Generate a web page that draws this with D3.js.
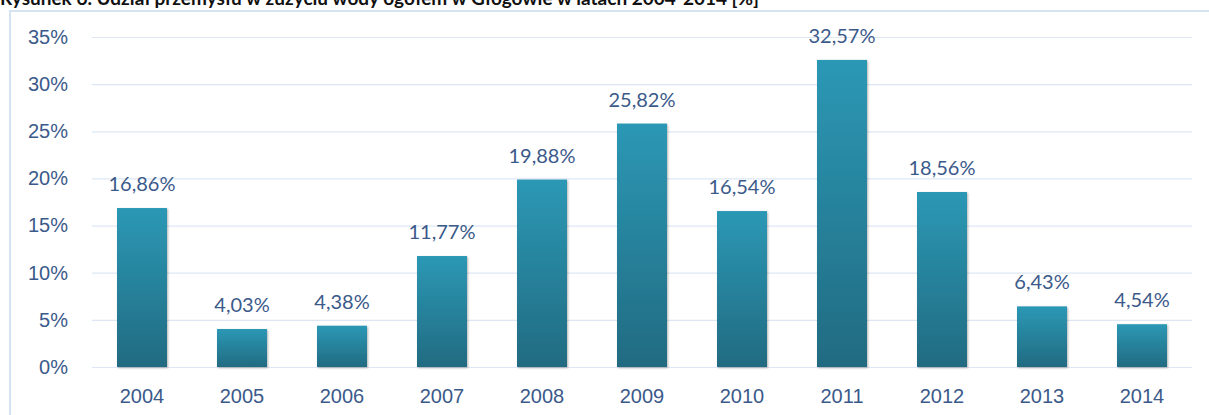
<!DOCTYPE html>
<html>
<head>
<meta charset="utf-8">
<script src="https://cdn.jsdelivr.net/npm/d3@7"></script>
<style>
  body { margin: 0; background: #fff; }
  svg { display: block; font-family: Lato, "Open Sans", sans-serif; }
</style>
</head>
<body>
<div id="chart"></div>
<script>
const years = ["2004", "2005", "2006", "2007", "2008", "2009", "2010", "2011", "2012", "2013", "2014"]
const shares = [16.86, 4.03, 4.38, 11.77, 19.88, 25.82, 16.54, 32.57, 18.56, 6.43, 4.54]
const yTicks = [0, 5, 10, 15, 20, 25, 30, 35]
const title = "Rysunek 6. Udział przemysłu w zużyciu wody ogółem w Głogowie w latach 2004-2014 [%]"

const width = 1209
const height = 415
const margin = { top: 37, right: 17, bottom: 48, left: 92 }
const labelColor = "#3b5a8a"

const svg = d3.select("#chart")
  .append("svg")
    .attr("width", width)
    .attr("height", height)

// title, cut off at the top edge like in the source picture
svg.append("text")
  .attr("x", 0)
  .attr("y", 5)
  .attr("font-weight", "bold")
  .attr("font-size", 19)
  .attr("fill", "#111")
  .text(title)

// outer frame
svg.append("rect")
  .attr("x", 10)
  .attr("y", 11)
  .attr("width", width + 20)
  .attr("height", height + 20)
  .attr("fill", "none")
  .attr("stroke", "#d6e3f1")
  .attr("stroke-width", 2)

const x = d3.scaleBand()
  .domain(years)
  .range([margin.left, width - margin.right])
  .paddingInner(0.5)
  .paddingOuter(0.25)

const y = d3.scaleLinear()
  .domain([0, 35])
  .range([height - margin.bottom, margin.top])

const defs = svg.append("defs")
const grad = defs.append("linearGradient")
  .attr("id", "barGrad")
  .attr("x1", 0).attr("y1", 0).attr("x2", 0).attr("y2", 1)
grad.append("stop").attr("offset", "0%").attr("stop-color", "#2c98b5")
grad.append("stop").attr("offset", "100%").attr("stop-color", "#216b81")

const shadow = defs.append("filter")
  .attr("id", "shadow")
  .attr("x", "-20%").attr("y", "-20%").attr("width", "140%").attr("height", "140%")
shadow.append("feDropShadow")
  .attr("dx", 1).attr("dy", 1).attr("stdDeviation", 1.2)
  .attr("flood-color", "#000").attr("flood-opacity", 0.3)

// grid + y axis
const yAxis = d3.axisLeft(y)
  .tickValues(yTicks)
  .tickSize(-(width - margin.right - margin.left))
  .tickPadding(24)
  .tickFormat(d => d + "%")

svg.append("g")
  .attr("transform", `translate(${margin.left},0)`)
  .call(yAxis)
  .call(g => g.select(".domain").remove())
  .call(g => g.selectAll(".tick line").attr("stroke", "#dce7f3").attr("stroke-width", 1.2))
  .call(g => g.selectAll(".tick text")
    .attr("font-size", 20).attr("fill", labelColor))

// x axis labels
const xAxis = d3.axisBottom(x).tickSize(0).tickPadding(22)
svg.append("g")
  .attr("transform", `translate(0,${height - margin.bottom})`)
  .call(xAxis)
  .call(g => g.select(".domain").remove())
  .call(g => g.selectAll(".tick text")
    .attr("font-size", 20).attr("fill", labelColor))

// bars
svg.selectAll(".bar")
  .data(shares)
  .enter()
  .append("rect")
    .attr("class", "bar")
    .attr("x", (d, i) => x(years[i]))
    .attr("y", d => y(d))
    .attr("width", x.bandwidth())
    .attr("height", d => y(0) - y(d))
    .attr("fill", "url(#barGrad)")
    .attr("filter", "url(#shadow)")

// value labels
svg.selectAll(".value")
  .data(shares)
  .enter()
  .append("text")
    .attr("class", "value")
    .attr("x", (d, i) => x(years[i]) + x.bandwidth() / 2)
    .attr("y", d => y(d) - 17)
    .attr("text-anchor", "middle")
    .attr("font-size", 20)
    .attr("fill", labelColor)
    .text(d => d.toFixed(2).replace(".", ",") + "%")
</script>
</body>
</html>
